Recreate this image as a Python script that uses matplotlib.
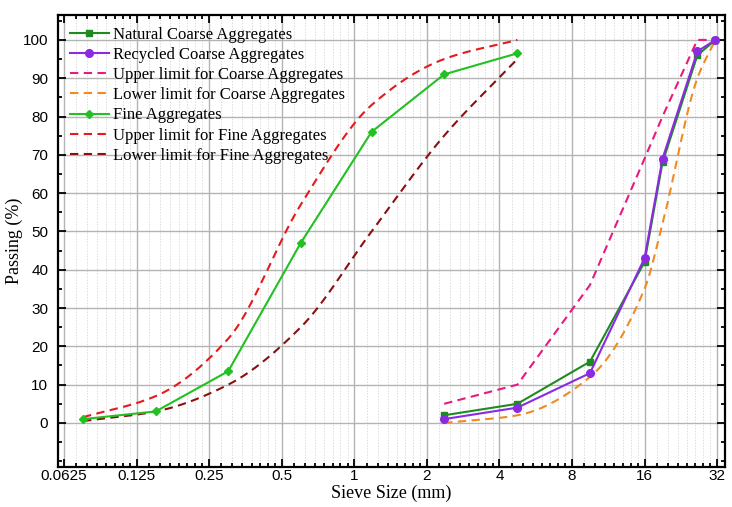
import numpy as np
import matplotlib
matplotlib.use("Agg")
import matplotlib.pyplot as plt
from matplotlib.ticker import FixedLocator, FixedFormatter, MultipleLocator

# ── Data ──────────────────────────────────────────────────────────────────────
coarse_sieve    = [2.36, 4.75, 9.5, 16, 19, 26.5, 31.5]
natural_coarse  = [2, 5, 16, 42, 68, 96, 100]
recycled_coarse = [1, 4, 13, 43, 69, 97, 100]
coarse_upper    = [5, 10, 36, 69, 80, 100, 100]
coarse_lower    = [0, 2, 12, 35, 52, 90, 100]

fine_sieve = [0.075, 0.15, 0.3, 0.6, 1.18, 2.36, 4.75]
fine_agg   = [1, 3, 13.5, 47, 76, 91, 96.5]
fine_upper = [1.5, 7, 22, 57, 83, 95, 100]
fine_lower = [0.5, 3, 10, 25, 50, 75, 95]

x_ticks  = [0.0625, 0.125, 0.25, 0.5, 1, 2, 4, 8, 16, 32]
x_labels = ["0.0625", "0.125", "0.25", "0.5", "1", "2", "4", "8", "16", "32"]


# spline-style connection (monotone cubic in log2 x), like Origin's "Spline" line
def spline_line(xs, ys, n=300):
    t = np.log2(np.asarray(xs, float))
    y = np.asarray(ys, float)
    h = np.diff(t)
    d = np.diff(y) / h
    m = np.zeros_like(y)
    m[0], m[-1] = d[0], d[-1]
    for i in range(1, len(y) - 1):
        if d[i - 1] * d[i] <= 0:
            m[i] = 0.0
        else:
            w1 = 2 * h[i] + h[i - 1]
            w2 = h[i] + 2 * h[i - 1]
            m[i] = (w1 + w2) / (w1 / d[i - 1] + w2 / d[i])
    tt = np.linspace(t[0], t[-1], n)
    k = np.clip(np.searchsorted(t, tt) - 1, 0, len(h) - 1)
    s = (tt - t[k]) / h[k]
    h00 = 2 * s**3 - 3 * s**2 + 1
    h10 = s**3 - 2 * s**2 + s
    h01 = -2 * s**3 + 3 * s**2
    h11 = s**3 - s**2
    yy = h00 * y[k] + h10 * h[k] * m[k] + h01 * y[k + 1] + h11 * h[k] * m[k + 1]
    return 2**tt, yy


# ── Plot ──────────────────────────────────────────────────────────────────────
plt.rcParams["font.family"] = "Liberation Serif"

fig = plt.figure(figsize=(7.32, 5.07), dpi=100)
ax = fig.add_axes([0.0792, 0.0789, 0.9112, 0.8915])

dash = (0, (4, 2.6))
lw = 1.5

ax.plot(coarse_sieve, natural_coarse, color="#1f8a1f", lw=lw, marker="s", ms=4.5,
        label="Natural Coarse Aggregates", zorder=5)
ax.plot(coarse_sieve, recycled_coarse, color="#8a2be2", lw=lw, marker="o", ms=5.5,
        label="Recycled Coarse Aggregates", zorder=6)
ax.plot(coarse_sieve, coarse_upper, color="#e8197f", lw=lw, ls=dash,
        label="Upper limit for Coarse Aggregates", zorder=4)
xs, ys = spline_line(coarse_sieve, coarse_lower)
ax.plot(xs, ys, color="#f28a22", lw=lw, ls=dash,
        label="Lower limit for Coarse Aggregates", zorder=4)
ax.plot(fine_sieve, fine_agg, color="#22c022", lw=lw, marker="D", ms=4.5,
        label="Fine Aggregates", zorder=5)
xs, ys = spline_line(fine_sieve, fine_upper)
ax.plot(xs, ys, color="#e41a1c", lw=lw, ls=dash,
        label="Upper limit for Fine Aggregates", zorder=4)
xs, ys = spline_line(fine_sieve, fine_lower)
ax.plot(xs, ys, color="#8b1010", lw=lw, ls=dash,
        label="Lower limit for Fine Aggregates", zorder=4)

ax.set_xscale("log", base=2)
ax.set_xlim(0.059, 34.5)
ax.set_ylim(-11.5, 106.5)

minor_x = [b * (1 + k / 8) for b in x_ticks[:-1] for k in range(1, 8)]
ax.xaxis.set_major_locator(FixedLocator(x_ticks))
ax.xaxis.set_major_formatter(FixedFormatter(x_labels))
ax.xaxis.set_minor_locator(FixedLocator(minor_x))
ax.xaxis.set_minor_formatter(FixedFormatter([""] * len(minor_x)))
ax.yaxis.set_major_locator(MultipleLocator(10))
ax.yaxis.set_minor_locator(MultipleLocator(5))
ax.set_yticks(range(0, 101, 10))

ax.grid(True, which="major", color="#b4b4b4", lw=1.0)
ax.grid(True, which="minor", axis="x", color="#dcdcdc", lw=0.7, ls=(0, (1.5, 1.5)))
ax.set_axisbelow(True)

ax.tick_params(which="both", direction="in", top=True, right=True, width=1.3)
ax.tick_params(which="major", length=6, labelsize=11)
ax.tick_params(which="minor", length=3)
ax.tick_params(axis="x", which="major", pad=1.5)
ax.tick_params(axis="y", which="major", pad=7)
for lab in ax.get_xticklabels() + ax.get_yticklabels():
    lab.set_family("Liberation Sans")
for sp in ax.spines.values():
    sp.set_linewidth(1.6)

ax.set_xlabel("Sieve Size (mm)", fontsize=13, labelpad=1)
ax.set_ylabel("Passing (%)", fontsize=13, labelpad=0)

ax.legend(loc="upper left", bbox_to_anchor=(0.0, 1.0), frameon=False, fontsize=12,
          handlelength=2.35, handletextpad=0.25, labelspacing=0.25, borderaxespad=0.3,
          borderpad=0.4)

fig.savefig("out.png", dpi=100)
